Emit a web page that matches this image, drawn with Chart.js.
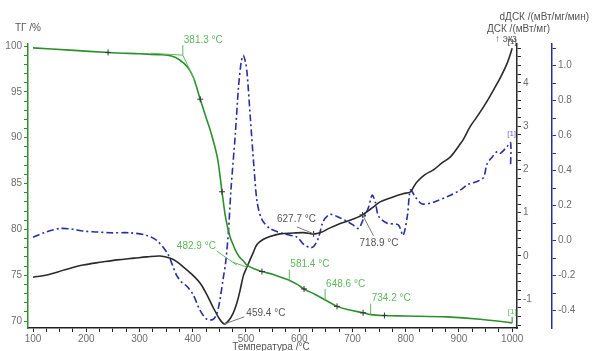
<!DOCTYPE html>
<html>
<head>
<meta charset="utf-8">
<script src="https://cdn.jsdelivr.net/npm/chart.js@4.4.1/dist/chart.umd.min.js"></script>
<style>
  html, body { margin: 0; padding: 0; background: #fff; }
</style>
</head>
<body>
<canvas id="chart" width="593" height="351"></canvas>
<script>
// TG curve (mass, %)
const tgTemp = [100, 170, 241, 300, 340, 360, 375, 390, 401, 414, 425, 433, 446, 455, 462, 470, 476, 483, 489, 496, 502, 515, 530, 550, 564, 583, 596, 609, 630, 649, 671, 695, 720, 734, 760, 800, 878, 940, 1000];
const tgVal = [99.8, 99.55, 99.3, 99.15, 99.05, 98.9, 98.5, 97.7, 96.6, 94.2, 92.2, 90.8, 87.9, 84.1, 81.2, 79.2, 78.3, 77.4, 76.9, 76.5, 76.1, 75.7, 75.4, 75.1, 74.8, 74.4, 74.0, 73.5, 72.9, 72.3, 71.6, 71.2, 70.9, 70.7, 70.6, 70.55, 70.45, 70.2, 69.8];
const tgMarks = [241, 414, 455, 530, 609, 671, 720, 760];

// DSC curve (mW/mg)
const dscTemp = [100, 126, 160, 194, 230, 258, 290, 314, 339, 358, 370, 382, 398, 414, 426, 438, 450, 459, 467, 476, 483, 489, 495, 502, 508, 514, 521, 532, 545, 564, 589, 608, 627, 640, 658, 677, 690, 705, 719, 730, 739, 752, 775, 795, 809, 815, 821, 836, 852, 868, 884, 900, 908, 921, 934, 950, 965, 978, 991, 1000];
const dscVal = [-0.49, -0.44, -0.32, -0.21, -0.14, -0.09, -0.05, -0.02, 0.0, -0.05, -0.13, -0.25, -0.42, -0.63, -0.88, -1.18, -1.45, -1.57, -1.50, -1.32, -1.08, -0.79, -0.46, -0.25, -0.08, 0.09, 0.27, 0.38, 0.45, 0.51, 0.53, 0.54, 0.51, 0.54, 0.65, 0.75, 0.80, 0.87, 0.95, 1.05, 1.13, 1.25, 1.36, 1.44, 1.48, 1.60, 1.71, 1.88, 1.99, 2.15, 2.29, 2.55, 2.69, 2.99, 3.22, 3.52, 3.84, 4.13, 4.47, 4.80];
const dscMarks = [627, 719];

// dDSC curve (mW/mg/min)
const ddscTemp = [100, 125, 151, 175, 194, 220, 245, 282, 314, 333, 352, 362, 370, 380, 389, 401, 414, 427, 438, 445, 451, 457, 462, 467, 472, 480, 486, 491, 495, 499, 502, 508, 515, 521, 530, 545, 570, 596, 608, 621, 628, 636, 645, 658, 677, 690, 701, 711, 720, 730, 737, 743, 749, 765, 786, 795, 803, 809, 818, 831, 852, 884, 903, 916, 935, 946, 953, 963, 972, 978, 991, 997, 997];
const ddscVal = [0.02, 0.05, 0.07, 0.065, 0.055, 0.05, 0.045, 0.045, 0.03, 0.0, -0.07, -0.14, -0.2, -0.24, -0.26, -0.31, -0.40, -0.45, -0.45, -0.42, -0.34, -0.22, -0.12, 0.05, 0.30, 0.61, 0.88, 1.02, 1.06, 1.02, 0.96, 0.71, 0.42, 0.22, 0.12, 0.07, 0.04, 0.02, -0.02, -0.04, -0.03, 0.015, 0.11, 0.15, 0.13, 0.11, 0.09, 0.07, 0.12, 0.19, 0.26, 0.22, 0.14, 0.10, 0.09, 0.03, 0.14, 0.29, 0.25, 0.21, 0.22, 0.26, 0.29, 0.32, 0.34, 0.36, 0.44, 0.48, 0.51, 0.50, 0.54, 0.56, 0.43];

// tick labels
const xTickLabels = [100, 200, 300, 400, 500, 600, 700, 800, 900, 1000];
const tgTickLabels = [70, 75, 80, 85, 90, 95, 100];
const dscTickLabels = [-1, 0, 1, 2, 3, 4];
const ddscTickLabels = [-0.4, -0.2, 0.0, 0.2, 0.4, 0.6, 0.8, 1.0];

// annotated temperatures
const tgNoteTemps = [381.3, 482.9, 581.4, 648.6, 734.2];
const tgNoteVals = [99.0, 76.1, 74.4, 72.3, 70.7];
const dscNoteTemps = [459.4, 627.7, 718.9];
const dscNoteVals = [-1.57, 0.51, 0.95];

const green = '#2e8f2e';
const noteGreen = '#5cb85c';
const black = '#2a2a2a';
const blue = '#2a2ea3';
const labelGray = '#6e6e6e';

function toPoints(xs, ys) {
    return xs.map((x, i) => ({ x: x, y: ys[i] }));
}

function hasLabel(list, v) {
    return list.some(l => Math.abs(l - v) < 1e-6);
}

function pix(chart, axis, t, v) {
    return { x: chart.scales.x.getPixelForValue(t), y: chart.scales[axis].getPixelForValue(v) };
}

function line(ctx, x1, y1, x2, y2) {
    ctx.beginPath();
    ctx.moveTo(x1, y1);
    ctx.lineTo(x2, y2);
    ctx.stroke();
}

function text(ctx, str, x, y, align, color, size) {
    ctx.font = (size || 10) + 'px "Liberation Sans", Arial, sans-serif';
    ctx.fillStyle = color;
    ctx.textAlign = align;
    ctx.textBaseline = 'middle';
    ctx.fillText(str, x, y);
}

// annotations and axis titles
const notesPlugin = {
    id: 'notes',
    afterDatasetsDraw(chart) {
        const ctx = chart.ctx;
        ctx.save();
        ctx.lineWidth = 1;

        // TG notes (green)
        ctx.strokeStyle = noteGreen;
        tgNoteTemps.forEach((t, i) => {
            const p = pix(chart, 'yTG', t, tgNoteVals[i]);
            const label = t.toFixed(1) + ' °C';
            if (i === 0) {
                line(ctx, p.x, p.y, p.x, p.y - 10);
                line(ctx, p.x, p.y, p.x - 32, p.y - 2);
                line(ctx, p.x, p.y, p.x + 12, p.y + 25);
                text(ctx, label, p.x + 1, p.y - 15, 'left', noteGreen);
            } else if (i === 1) {
                line(ctx, p.x, p.y, p.x - 20, p.y - 14);
                line(ctx, p.x - 4, p.y - 3, p.x + 10, p.y + 2);
                text(ctx, label, p.x - 21, p.y - 19, 'right', noteGreen);
            } else {
                line(ctx, p.x, p.y, p.x, p.y - 11);
                text(ctx, label, p.x + 1, p.y - 16, 'left', noteGreen);
            }
        });

        // DSC notes (gray)
        ctx.strokeStyle = '#777';
        dscNoteTemps.forEach((t, i) => {
            const p = pix(chart, 'yDSC', t, dscNoteVals[i]);
            const label = t.toFixed(1) + ' °C';
            if (i === 0) {
                line(ctx, p.x, p.y, p.x + 20, p.y - 7);
                text(ctx, label, p.x + 22, p.y - 11, 'left', '#555');
            } else if (i === 1) {
                line(ctx, p.x, p.y, p.x - 17, p.y - 7);
                text(ctx, label, p.x + 2, p.y - 15, 'right', '#555');
            } else {
                line(ctx, p.x, p.y, p.x + 11, p.y + 21);
                text(ctx, label, p.x - 3, p.y + 28, 'left', '#555');
            }
        });

        // segment end markers [1]
        const g = pix(chart, 'yTG', tgTemp[tgTemp.length - 1], tgVal[tgVal.length - 1]);
        line(ctx, g.x, g.y, g.x, g.y - 6);
        ctx.strokeStyle = noteGreen;
        line(ctx, g.x, g.y, g.x, g.y - 6);
        text(ctx, '[1]', g.x, g.y - 11, 'center', noteGreen, 8);
        const b = pix(chart, 'yDDSC', ddscTemp[ddscTemp.length - 2], ddscVal[ddscVal.length - 2]);
        text(ctx, '[1]', b.x + 1, b.y - 9, 'center', '#6a6ad0', 8);
        const k = pix(chart, 'yDSC', dscTemp[dscTemp.length - 1], dscVal[dscVal.length - 1]);
        text(ctx, '[1]', k.x, k.y - 7, 'center', '#444', 8);

        ctx.restore();
    },
    afterDraw(chart) {
        const ctx = chart.ctx;
        ctx.save();
        text(ctx, 'ТГ /%', 15, 28, 'left', '#555');
        text(ctx, 'dДСК /(мВт/мг/мин)', 589, 17, 'right', '#555');
        text(ctx, 'ДСК /(мВт/мг)', 487, 29, 'left', '#555');
        text(ctx, '↑ экз', 495, 39, 'left', '#555');
        text(ctx, 'Температура /°C', 271, 347, 'center', '#555');
        ctx.restore();
    }
};

function yScale(pos, min, max, step, labels, color, width, weight, fmt) {
    return {
        type: 'linear',
        position: pos,
        weight: weight,
        min: min,
        max: max,
        border: { display: true, color: color, width: 1.5 },
        grid: { drawOnChartArea: false, drawTicks: true, tickLength: 4, color: color },
        ticks: {
            stepSize: step,
            includeBounds: false,
            autoSkip: false,
            padding: 2,
            color: labelGray,
            font: { size: 10, family: '"Liberation Sans", Arial, sans-serif' },
            callback: v => hasLabel(labels, v) ? fmt(v) : ''
        },
        afterFit: s => { s.width = width; }
    };
}

new Chart(document.getElementById('chart'), {
    type: 'line',
    data: {
        datasets: [
            {
                label: 'ТГ',
                yAxisID: 'yTG',
                data: toPoints(tgTemp, tgVal),
                borderColor: green,
                borderWidth: 1.6,
                tension: 0.35,
                pointStyle: 'cross',
                pointRadius: c => tgMarks.includes(tgTemp[c.dataIndex]) ? 3 : 0,
                pointBorderColor: '#333',
                pointBorderWidth: 1
            },
            {
                label: 'ДСК',
                yAxisID: 'yDSC',
                data: toPoints(dscTemp, dscVal),
                borderColor: black,
                borderWidth: 1.6,
                tension: 0.35,
                pointStyle: 'cross',
                pointRadius: c => dscMarks.includes(dscTemp[c.dataIndex]) ? 3 : 0,
                pointBorderColor: '#333',
                pointBorderWidth: 1
            },
            {
                label: 'dДСК',
                yAxisID: 'yDDSC',
                data: toPoints(ddscTemp, ddscVal),
                borderColor: blue,
                borderWidth: 1.6,
                borderDash: [7, 3, 2, 3],
                tension: 0.3,
                pointRadius: 0
            }
        ]
    },
    options: {
        responsive: false,
        animation: false,
        layout: { padding: { top: 44, left: 0, right: 0, bottom: 0 } },
        plugins: { legend: { display: false }, tooltip: { enabled: false } },
        scales: {
            x: {
                type: 'linear',
                position: 'bottom',
                min: 90.6,
                max: 1009,
                border: { display: true, color: '#222', width: 1.5 },
                grid: { drawOnChartArea: false, drawTicks: true, tickLength: 4, color: '#222' },
                ticks: {
                    stepSize: 25,
                    includeBounds: false,
                    autoSkip: false,
                    maxRotation: 0,
                    padding: 1,
                    color: labelGray,
                    font: { size: 10, family: '"Liberation Sans", Arial, sans-serif' },
                    callback: v => hasLabel(xTickLabels, v) ? String(v) : ''
                },
                afterFit: s => { s.height = 23; }
            },
            yTG: yScale('left', 69.24, 100.22, 1, tgTickLabels, green, 28, 0, v => String(v)),
            yDSC: yScale('right', -1.665, 4.9, 0.2, dscTickLabels, black, 35, 0, v => String(Math.round(v))),
            yDDSC: yScale('right', -0.499, 1.124, 0.1, ddscTickLabels, blue, 41, 1, v => v.toFixed(1))
        }
    },
    plugins: [notesPlugin]
});
</script>
</body>
</html>
